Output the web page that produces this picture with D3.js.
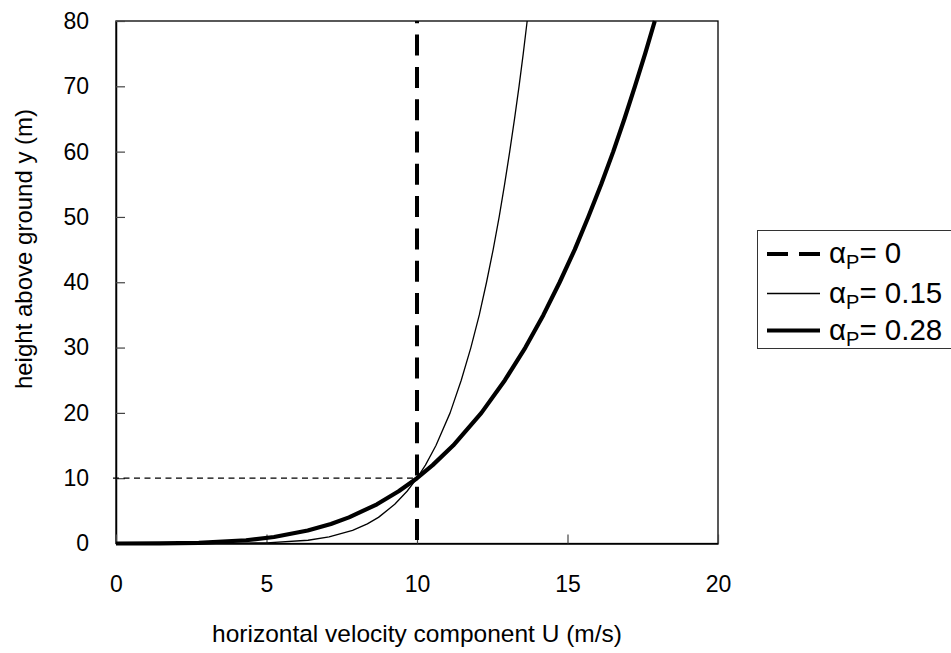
<!DOCTYPE html>
<html>
<head>
<meta charset="utf-8">
<script src="https://cdn.jsdelivr.net/npm/d3@7"></script>
<style>
  body { margin: 0; background: #fff; }
  svg { display: block; font-family: "Liberation Sans", Arial, Helvetica, sans-serif; }
</style>
</head>
<body>
<svg id="chart" width="951" height="653"></svg>
<script>
// Heights above ground (m) at which the velocity profiles are sampled
const heights = [0, 0.01, 0.1, 0.5, 1, 2, 3, 4, 6, 8, 10, 12, 15, 20, 25, 30, 35, 40, 45, 50, 55, 60, 65, 70, 75, 80];
// Horizontal velocity U (m/s) for each profile exponent
const uAlpha015 = [0, 3.55, 5.01, 6.38, 7.08, 7.86, 8.35, 8.72, 9.26, 9.67, 10, 10.28, 10.63, 11.10, 11.47, 11.79, 12.07, 12.31, 12.53, 12.73, 12.91, 13.08, 13.24, 13.39, 13.53, 13.66];
const uAlpha028 = [0, 1.45, 2.75, 4.32, 5.25, 6.37, 7.14, 7.74, 8.67, 9.39, 10, 10.52, 11.20, 12.14, 12.92, 13.60, 14.20, 14.74, 15.24, 15.69, 16.12, 16.52, 16.89, 17.24, 17.58, 17.90];
// Uniform profile (alpha = 0)
const heightsAlpha0 = [0, 80];
const uAlpha0 = [10, 10];
// Reference point: 10 m/s at 10 m
const refU = 10;
const refHeight = 10;

const xTicks = [0, 5, 10, 15, 20];
const yTicks = [0, 10, 20, 30, 40, 50, 60, 70, 80];
const seriesLabels = ["0", "0.15", "0.28"];

(function () {
  const svg = d3.select("#chart");
  const plotLeft = 116, plotRight = 718, plotTop = 21, plotBottom = 543.5;

  const x = d3.scaleLinear().domain([0, 20]).range([plotLeft, plotRight]);
  const y = d3.scaleLinear().domain([0, 80]).range([plotBottom, plotTop]);

  const line = d3.line().x(d => x(d[0])).y(d => y(d[1]));

  // Plot frame
  svg.append("rect")
    .attr("x", plotLeft).attr("y", plotTop)
    .attr("width", plotRight - plotLeft).attr("height", plotBottom - plotTop)
    .attr("fill", "none").attr("stroke", "#000").attr("stroke-width", 1.3);

  // Axes with inward ticks
  const yAxis = svg.append("g")
    .attr("transform", `translate(${plotLeft},0)`)
    .call(d3.axisLeft(y).tickValues(yTicks).tickSizeInner(-9).tickSizeOuter(0).tickPadding(27));
  const xAxis = svg.append("g")
    .attr("transform", `translate(0,${plotBottom})`)
    .call(d3.axisBottom(x).tickValues(xTicks).tickSizeInner(-9).tickSizeOuter(0).tickPadding(32));
  [yAxis, xAxis].forEach(g => {
    g.select(".domain").attr("stroke", "#000").attr("stroke-width", 1.5);
    g.selectAll(".tick line").attr("stroke", "#444").attr("stroke-width", 1.2);
    g.selectAll(".tick text").attr("font-size", 23).attr("fill", "#000")
      .attr("font-family", "'Liberation Sans', Arial, sans-serif");
  });

  // Dotted guide at the reference height
  svg.append("path")
    .attr("d", line([[-0.1, refHeight], [refU, refHeight]]))
    .attr("fill", "none").attr("stroke", "#000").attr("stroke-width", 1.3)
    .attr("stroke-dasharray", "6,4.5");

  // Velocity profiles
  const thin = heights.map((h, i) => [uAlpha015[i], h]);
  const thick = heights.map((h, i) => [uAlpha028[i], h]);
  const uniform = heightsAlpha0.map((h, i) => [uAlpha0[i], h]);

  svg.append("path").attr("d", line(thin))
    .attr("fill", "none").attr("stroke", "#000").attr("stroke-width", 1.3)
    .attr("stroke-linejoin", "round");
  svg.append("path").attr("d", line(thick))
    .attr("fill", "none").attr("stroke", "#000").attr("stroke-width", 4.2)
    .attr("stroke-linejoin", "round");
  svg.append("path").attr("d", line(uniform.slice().reverse()))
    .attr("fill", "none").attr("stroke", "#000").attr("stroke-width", 4)
    .attr("stroke-dasharray", "21,11.3").attr("stroke-dashoffset", 18.7);

  // Axis titles
  svg.append("text")
    .attr("x", (plotLeft + plotRight) / 2).attr("y", 642)
    .attr("text-anchor", "middle").attr("font-size", 24.5)
    .text("horizontal velocity component U (m/s)");
  svg.append("text")
    .attr("transform", "translate(32,249) rotate(-90)")
    .attr("text-anchor", "middle").attr("font-size", 24)
    .text("height above ground y (m)");

  // Legend
  const legend = svg.append("g");
  legend.append("rect")
    .attr("x", 757.5).attr("y", 230.5).attr("width", 200).attr("height", 118)
    .attr("fill", "#fff").attr("stroke", "#333").attr("stroke-width", 1);
  const rows = [254, 293.5, 330.5];
  const styles = [
    { w: 4, dash: "21,11" },
    { w: 1.3, dash: null },
    { w: 4.2, dash: null }
  ];
  seriesLabels.forEach((lab, i) => {
    const yy = rows[i];
    legend.append("line")
      .attr("x1", 767).attr("x2", 820).attr("y1", yy).attr("y2", yy)
      .attr("stroke", "#000").attr("stroke-width", styles[i].w)
      .attr("stroke-dasharray", styles[i].dash);
    const t = legend.append("text").attr("x", 829).attr("y", yy + 9).attr("font-size", 29.5);
    t.append("tspan").text("α");
    t.append("tspan").attr("font-size", 20).attr("dy", 6).text("P");
    t.append("tspan").attr("dy", -6).text("= " + lab);
  });
})();
</script>
</body>
</html>
